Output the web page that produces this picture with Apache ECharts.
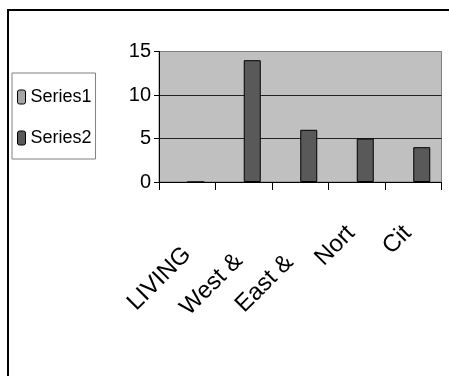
<!DOCTYPE html>
<html>
<head>
<meta charset="utf-8">
<script src="https://cdn.jsdelivr.net/npm/echarts@6/dist/echarts.min.js"></script>
<style>
html,body{margin:0;padding:0;background:#fff;}
#c{width:449px;height:376px;}
</style>
</head>
<body>
<div id="c"></div>
<script>
var categories = ['LIVING', 'West &', 'East &', 'Nort', 'Cit'];
var series1 = [0, 0, 0, 0, 0];
var series2 = [0, 14, 6, 5, 4];
var yTicks = [0, 5, 10, 15];

var FONT = "'Liberation Sans', Arial, sans-serif";
// per-label layout tweaks (style only): right padding and downward line offset
var labelPadRight = [19, 27, 32, 8, 8];
var labelShiftLine = [38, 40, 34, 0, 0];

var catData = categories.map(function (c, i) {
  var ts = {padding: [0, labelPadRight[i], 0, 0]};
  if (labelShiftLine[i]) { ts.lineHeight = labelShiftLine[i]; }
  return {value: c, textStyle: ts};
});

var chart = echarts.init(document.getElementById('c'), null, {renderer: 'canvas'});
chart.setOption({
  backgroundColor: '#ffffff',
  animation: false,
  graphic: [{
    type: 'rect',
    shape: {x: 8, y: 10, width: 470, height: 400},
    style: {fill: 'none', stroke: '#000', lineWidth: 2},
    z: -1
  }],
  legend: {
    orient: 'vertical',
    left: 12,
    top: 73,
    padding: [13, 4, 10, 5],
    itemWidth: 8,
    itemHeight: 14,
    itemGap: 19,
    borderColor: '#808080',
    borderWidth: 1,
    textStyle: {fontFamily: FONT, fontSize: 18, color: '#000', lineHeight: 22},
    data: [
      {name: 'Series1', itemStyle: {borderColor: '#000', borderWidth: 1}},
      {name: 'Series2', itemStyle: {borderColor: '#000', borderWidth: 1}}
    ]
  },
  grid: {
    left: 159, top: 51.5, right: 7.5, bottom: 194,
    show: true,
    backgroundColor: '#c0c0c0',
    borderColor: '#808080',
    borderWidth: 1
  },
  xAxis: {
    type: 'category',
    data: catData,
    axisLine: {lineStyle: {color: '#000', width: 1}},
    axisTick: {show: true, length: 8, interval: 0, lineStyle: {color: '#000'}},
    axisLabel: {
      interval: 0,
      rotate: 45,
      margin: 42,
      fontFamily: FONT,
      fontSize: 24,
      color: '#000',
      formatter: function (value, index) {
        return labelShiftLine[index] ? '\n' + value : value;
      }
    }
  },
  yAxis: {
    type: 'value',
    min: 0, max: 15, interval: 5,
    axisLine: {show: true, lineStyle: {color: '#000', width: 1}},
    axisTick: {show: true, length: 5, lineStyle: {color: '#000'}},
    axisLabel: {margin: 8, fontFamily: FONT, fontSize: 20, color: '#000'},
    splitLine: {show: true, lineStyle: {color: ['#000', '#222', '#222', '#808080'], width: 1}}
  },
  series: [{
    name: 'Series1',
    type: 'bar',
    data: series1,
    barWidth: 17,
    barGap: '0%',
    itemStyle: {color: '#a6a6a6', borderWidth: 0}
  }, {
    name: 'Series2',
    type: 'bar',
    data: series2,
    barWidth: 17,
    barGap: '0%',
    itemStyle: {color: '#595959', borderColor: '#000', borderWidth: 1}
  }]
});
</script>
</body>
</html>
